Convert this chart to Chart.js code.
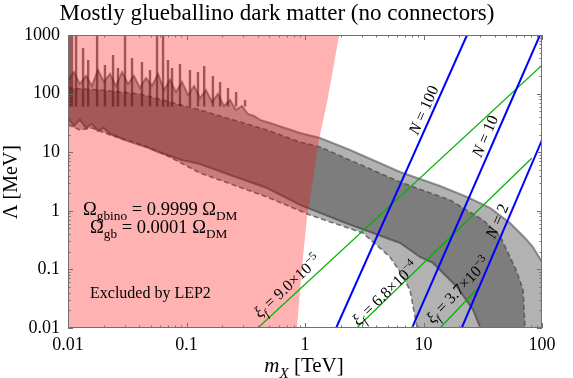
<!DOCTYPE html>
<html><head><meta charset="utf-8">
<script src="https://cdn.jsdelivr.net/npm/chart.js@4/dist/chart.umd.min.js"></script>
<style>html,body{margin:0;padding:0;background:#fff;}canvas{display:block;}</style>
</head><body>
<canvas id="c" width="573" height="378"></canvas>
<script>
// ---- axis tick labels ----
const xTickLabels = [0.01, 0.1, 1, 10, 100];
const yTickLabels = [0.01, 0.1, 1, 10, 100, 1000];

// ---- band A (solid edges): m_X [TeV] -> Lambda [MeV] ----
const bandAUpperX = [0.0100,0.0112,0.0126,0.0142,0.0159,0.0179,0.0201,0.0226,0.0254,0.0286,0.0321,0.0360,0.0405,0.0455,0.0511,0.0575,0.0646,0.0726,0.0815,0.0916,0.103,0.116,0.130,0.146,0.164,0.184,0.207,0.233,0.261,0.294,0.330,0.371,0.417,0.506,0.678,0.908,1.34,2.40,6.34,13.8,23.3,36.4,53.7,71.9,83.9,100,112];
const bandAUpperY = [171,233,146,200,135,253,158,216,135,233,146,200,125,184,135,216,115,171,106,158,94.6,135,84.1,115,71.9,98.4,61.4,77.8,52.6,61.4,44.9,41.5,35.6,31.5,25.9,21.3,17.5,10.9,4.59,2.65,1.72,1.12,0.619,0.344,0.241,0.134,0.0904];
const bandALowerX = [0.0100,0.0112,0.0126,0.0142,0.0159,0.0179,0.0201,0.0226,0.0254,0.0286,0.0360,0.0455,0.0575,0.0726,0.0916,0.130,0.233,0.478,0.908,2.09,6.34,9.33,12.0,19.2,26.2,30.0,36.4,112];
const bandALowerY = [38.4,28.0,35.6,25.9,30.3,23.0,25.9,20.5,18.9,16.8,14.3,12.3,10.1,8.61,7.36,6.29,4.08,2.45,1.26,0.644,0.282,0.163,0.129,0.0501,0.0203,0.0104,0.0042,0.0042];

// ---- band B (dashed edges) ----
const bandBUpperX = [0.0100,0.0186,0.0405,0.130,0.478,0.908,1.34,6.34,16.7,31.8,44.2,53.7,61.5,69.2,71.9,73.3];
const bandBUpperY = [125,115,98.4,52.6,23.9,14.9,12.3,3.10,1.53,0.697,0.372,0.163,0.0904,0.0445,0.0104,0.0051];
const bandBLowerX = [0.0100,0.0126,0.0159,0.0226,0.0360,0.0597,0.130,0.478,1.10,3.08,5.21,6.34,7.69,8.81,9.33];
const bandBLowerY = [29.2,24.0,25.9,19.7,14.9,10.1,4.42,1.72,0.847,0.418,0.163,0.0904,0.0445,0.0104,0.0051];

// ---- numerical noise spikes at low mass ----
const spikeX   = [0.0104,0.0108,0.0117,0.0134,0.0148,0.0176,0.0205,0.0240,0.0264,0.0303,0.0347,0.0421,0.0492,0.0564,0.0634,0.0698,0.0755,0.0881,0.107,0.125,0.141,0.167,0.192,0.224,0.262,0.312];
const spikeTop = [1000,1000,1000,600,374,1000,308,456,274,1000,405,346,253,1000,1000,374,274,320,253,233,296,200,158,125,106,77.8];
const spikeBase = 60;

// ---- LEP2 exclusion boundary ----
const lepX = [0.831,0.855,0.944,1.04,1.10,1.17,1.31,1.53,1.72,1.94,2.05];
const lepY = [0.005,0.01,0.110,0.784,1.53,3.36,16.2,69.2,253,1000,2000];

// ---- N lines ----
const nNames = ['100','10','2'];
const nLineX = [[1.83,23.3],[8.0,96.2],[21.0,100]];
const nLineY = [[0.01,1000],[0.01,1000],[0.01,16.1]];
const nLabelAt = [[10.0,52.5],[33.0,18.9],[41.7,0.67]];

// ---- xi_f lines ----
const xiMant = ['9.0','6.8','3.7'];
const xiExp = ['\u22125','\u22124','\u22123'];
const xiLineX = [[0.40,100],[2.73,81.9],[13.8,29.7]];
const xiLineY = [[0.01,305],[0.01,7.87],[0.01,0.051]];
const xiLabelAt = [[0.705,0.052],[4.73,0.0395],[19.5,0.0445]];

const FONT = '"Liberation Serif","Times New Roman",serif';
Chart.defaults.font.family = FONT;

function pts(xs, ys){ return xs.map((x,i)=>({x:x, y:ys[i]})); }
const polyA = pts(bandAUpperX,bandAUpperY).concat(pts(bandALowerX,bandALowerY).reverse());
const polyB = pts(bandBUpperX,bandBUpperY).concat(pts(bandBLowerX,bandBLowerY).reverse());
const polyLep = pts(lepX,lepY).concat([{x:0.005,y:2000},{x:0.005,y:0.005}]);
const spikes = [];
spikeX.forEach((x,i)=>{ spikes.push({x:x,y:spikeBase},{x:x,y:spikeTop[i]},{x:x,y:null}); });

const NONE = 'rgba(0,0,0,0)';
const datasets = [];
nLineX.forEach((xs,i)=>datasets.push({data:pts(xs,nLineY[i]),borderColor:'#0000ff',borderWidth:2,fill:false,order:1}));
xiLineX.forEach((xs,i)=>datasets.push({data:pts(xs,xiLineY[i]),borderColor:'#00b000',borderWidth:1.2,fill:false,order:2}));
datasets.push({data:polyLep,borderColor:NONE,borderWidth:0,backgroundColor:'rgba(255,0,0,0.30)',fill:'shape',order:3});
datasets.push({data:spikes,borderColor:'rgba(30,30,30,0.6)',borderWidth:2.4,fill:false,spanGaps:false,order:4});
datasets.push({data:pts(bandAUpperX,bandAUpperY),borderColor:'rgba(70,70,70,0.55)',borderWidth:2,fill:false,order:5});
datasets.push({data:pts(bandALowerX,bandALowerY),borderColor:'rgba(60,60,60,0.6)',borderWidth:2,fill:false,order:5});
datasets.push({data:pts(bandBUpperX,bandBUpperY),borderColor:'rgba(70,70,70,0.7)',borderWidth:1.6,borderDash:[5,3],fill:false,order:5});
datasets.push({data:pts(bandBLowerX,bandBLowerY),borderColor:'rgba(70,70,70,0.7)',borderWidth:1.6,borderDash:[5,3],fill:false,order:5});
datasets.push({data:polyA,borderColor:NONE,borderWidth:0,backgroundColor:'rgba(0,0,0,0.30)',fill:'shape',order:6});
datasets.push({data:polyB,borderColor:NONE,borderWidth:0,backgroundColor:'rgba(0,0,0,0.30)',fill:'shape',order:6});

function fontFor(kind,size){
  const small = kind.indexOf('sub')>=0 || kind.indexOf('sup')>=0;
  const it = kind.charAt(0)==='i' ? 'italic ' : '';
  return it + (small? size*0.72 : size) + 'px ' + FONT;
}
function richWidth(ctx,parts,size){ let w=0; parts.forEach(p=>{ctx.font=fontFor(p[1],size); w+=ctx.measureText(p[0]).width;}); return w; }
function drawRich(ctx,parts,x,y,size){
  let cx=x;
  parts.forEach(p=>{
    ctx.font=fontFor(p[1],size);
    let dy=0;
    if(p[1].indexOf('sub')>=0) dy=size*0.28;
    if(p[1].indexOf('sup')>=0) dy=-size*0.40;
    ctx.fillText(p[0],cx,y+dy);
    cx+=ctx.measureText(p[0]).width;
  });
}
function lineLabel(chart,parts,at,lx,ly,size){
  const {ctx,scales:{x,y}} = chart;
  const px=x.getPixelForValue(at[0]), py=y.getPixelForValue(at[1]);
  const ax=x.getPixelForValue(lx[0]), ay=y.getPixelForValue(ly[0]);
  const bx=x.getPixelForValue(lx[1]), by=y.getPixelForValue(ly[1]);
  const ang=Math.atan2(by-ay,bx-ax);
  ctx.save(); ctx.translate(px,py); ctx.rotate(ang);
  ctx.textAlign='left'; ctx.textBaseline='alphabetic'; ctx.fillStyle='#000';
  const w=richWidth(ctx,parts,size);
  drawRich(ctx,parts,-w/2,size*0.33,size);
  ctx.restore();
}

const decor = {
  id:'decor',
  afterDraw(chart){
    const {ctx,chartArea:a,scales:{x,y}} = chart;
    ctx.save();
    ctx.strokeStyle='#707070'; ctx.lineWidth=1;
    ctx.beginPath();
    xTickLabels.forEach(m=>{
      for(let k=1;k<10;k++){
        const v=m*k; if(v>100) break;
        const px=Math.round(x.getPixelForValue(v))+0.5;
        const L = k===1?5:2.5;
        ctx.moveTo(px,a.bottom); ctx.lineTo(px,a.bottom-L);
        ctx.moveTo(px,a.top); ctx.lineTo(px,a.top+L);
      }
    });
    yTickLabels.forEach(m=>{
      for(let k=1;k<10;k++){
        const v=m*k; if(v>1000) break;
        const py=Math.round(y.getPixelForValue(v))+0.5;
        const L = k===1?5:2.5;
        ctx.moveTo(a.left,py); ctx.lineTo(a.left+L,py);
        ctx.moveTo(a.right,py); ctx.lineTo(a.right-L,py);
      }
    });
    ctx.stroke();
    ctx.strokeRect(Math.round(a.left)+0.5,Math.round(a.top)+0.5,Math.round(a.right-a.left)-1,Math.round(a.bottom-a.top)-1);

    ctx.fillStyle='#000'; ctx.textBaseline='alphabetic';
    ctx.font='23px '+FONT; ctx.textAlign='center';
    ctx.fillText('Mostly glueballino dark matter (no connectors)',277,20);
    ctx.textAlign='left';
    const xl=[['m','i'],['X','isub'],[' [TeV]','n']];
    const wx=richWidth(ctx,xl,21);
    drawRich(ctx,xl,304-wx/2,372,21);
    ctx.save(); ctx.translate(17,182); ctx.rotate(-Math.PI/2);
    ctx.font='20px '+FONT; ctx.textAlign='center'; ctx.fillText('\u039B [MeV]',0,0);
    ctx.restore();
    ctx.textAlign='left';
    drawRich(ctx,[['\u03A9','n'],['gbino','sub'],[' = 0.9999 ','n'],['\u03A9','n'],['DM','sub']],83,215,18.5);
    drawRich(ctx,[['\u03A9','n'],['gb','sub'],[' = 0.0001 ','n'],['\u03A9','n'],['DM','sub']],90,233,18.5);
    ctx.font='16px '+FONT; ctx.fillText('Excluded by LEP2',90,298);
    nNames.forEach((n,i)=>lineLabel(chart,[['N','i'],[' = '+n,'n']],nLabelAt[i],nLineX[i],nLineY[i],16));
    xiMant.forEach((m,i)=>lineLabel(chart,[['\u03BE','i'],['f','isub'],[' = '+m+'\u00D710','n'],[xiExp[i],'sup']],xiLabelAt[i],xiLineX[i],xiLineY[i],16));
    ctx.restore();
  }
};

new Chart(document.getElementById('c'),{
  type:'line',
  data:{datasets:datasets},
  options:{
    responsive:false, animation:false, devicePixelRatio:1,
    layout:{padding:{top:35,right:31,left:0,bottom:0}},
    elements:{point:{radius:0,hoverRadius:0},line:{tension:0}},
    plugins:{legend:{display:false},tooltip:{enabled:false},title:{display:false}},
    events:[],
    scales:{
      x:{type:'logarithmic',min:0.01,max:100,position:'bottom',
        grid:{display:false,drawTicks:false},border:{display:false},
        ticks:{color:'#000',font:{size:18},padding:6,autoSkip:false,maxRotation:0,minRotation:0,callback:v=>String(v)},
        afterBuildTicks:s=>{s.ticks=xTickLabels.map(v=>({value:v}));},
        afterFit:s=>{s.height=50;}},
      y:{type:'logarithmic',min:0.01,max:1000,position:'left',
        grid:{display:false,drawTicks:false},border:{display:false},
        ticks:{color:'#000',font:{size:18},padding:8,autoSkip:false,callback:v=>String(v)},
        afterBuildTicks:s=>{s.ticks=yTickLabels.map(v=>({value:v}));},
        afterFit:s=>{s.width=68;}}
    }
  },
  plugins:[decor]
});
</script>
</body></html>
